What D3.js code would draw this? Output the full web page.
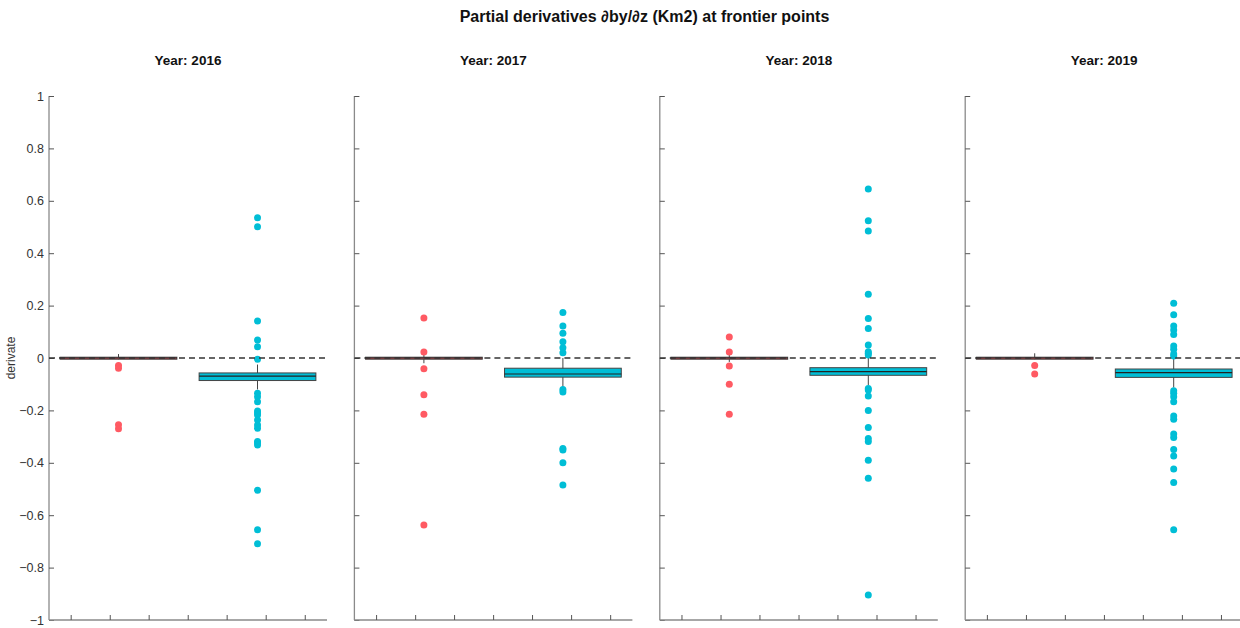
<!DOCTYPE html>
<html>
<head>
<meta charset="utf-8">
<script src="https://cdn.jsdelivr.net/npm/d3@7"></script>
<style>
  body { margin: 0; background: #fff; }
  svg { display: block; font-family: "Liberation Sans", Arial, sans-serif; }
</style>
</head>
<body>
<svg id="chart" width="1240" height="628"></svg>
<script>
// ---- data ----
const years = ["2016", "2017", "2018", "2019"];
const groups = ["A", "B"];
const groupPos = [1, 2];
const xTickValues = [0.656, 0.937, 1.217, 1.498, 1.778, 2.059, 2.340];
const yTickValues = [-1, -0.8, -0.6, -0.4, -0.2, 0, 0.2, 0.4, 0.6, 0.8, 1];

// box stats per year: [whiskerLow, q1, median, q3, whiskerHigh]
const redStats = [
  [-0.005, -0.003, 0, 0.003, 0.015],
  [-0.020, -0.003, 0, 0.003, 0.012],
  [-0.015, -0.003, 0, 0.003, 0.012],
  [-0.005, -0.003, 0, 0.003, 0.018]
];
const cyanStats = [
  [-0.120, -0.086, -0.069, -0.057, -0.025],
  [-0.112, -0.073, -0.061, -0.039, 0.000],
  [-0.103, -0.066, -0.052, -0.037, 0.003],
  [-0.113, -0.074, -0.056, -0.042, -0.004]
];
const redOutliers = [
  [-0.029, -0.039, -0.255, -0.270],
  [0.153, 0.023, -0.041, -0.140, -0.215, -0.637],
  [0.080, 0.023, -0.031, -0.100, -0.215],
  [-0.029, -0.061]
];
const cyanOutliers = [
  [0.535, 0.501, 0.141, 0.069, 0.043, -0.005, -0.135, -0.148, -0.167, -0.202, -0.210,
   -0.218, -0.237, -0.256, -0.268, -0.319, -0.323, -0.332, -0.505, -0.656, -0.709],
  [0.174, 0.122, 0.094, 0.062, 0.039, 0.020, -0.120, -0.130, -0.345, -0.351, -0.400, -0.485],
  [0.645, 0.524, 0.485, 0.243, 0.151, 0.113, 0.050, 0.024, 0.018, 0.011, -0.116, -0.122,
   -0.145, -0.200, -0.265, -0.307, -0.319, -0.390, -0.459, -0.905],
  [0.209, 0.165, 0.122, 0.107, 0.090, 0.046, 0.033, 0.015, 0.008, -0.125, -0.135, -0.148,
   -0.167, -0.221, -0.234, -0.290, -0.303, -0.349, -0.374, -0.424, -0.475, -0.656]
];
const colors = ["#ff5a63", "#00bed6"];

// ---- layout ----
const svg = d3.select("#chart");
const panelLeft0 = 49, panelStep = 305.4, panelW = 278;
const yTop = 96, yBottom = 620;
const y = d3.scaleLinear().domain([-1, 1]).range([yBottom, yTop]);
const boxHalf = 0.42;

svg.append("text")
  .attr("x", 644.5).attr("y", 22)
  .attr("text-anchor", "middle")
  .attr("font-size", 16).attr("font-weight", "bold").attr("fill", "#111")
  .text("Partial derivatives \u2202by/\u2202z (Km2) at frontier points");

svg.append("text")
  .attr("transform", `translate(15,${y(0)}) rotate(-90)`)
  .attr("text-anchor", "middle")
  .attr("font-size", 12).attr("fill", "#333")
  .text("derivate");

years.forEach((yr, i) => {
  const left = panelLeft0 + i * panelStep;
  const x = d3.scaleLinear().domain([0.5, 2.5]).range([left, left + panelW]);
  const g = svg.append("g");

  // title
  g.append("text")
    .attr("x", left + panelW / 2).attr("y", 65)
    .attr("text-anchor", "middle")
    .attr("font-size", 13.5).attr("font-weight", "bold").attr("fill", "#111")
    .text("Year: " + yr);

  // y axis
  const yAxis = d3.axisRight(y).tickValues(yTickValues).tickSize(5)
    .tickFormat(i === 0 ? d3.format("") : () => "");
  const ya = g.append("g").attr("transform", `translate(${left},0)`).call(yAxis);
  ya.select(".domain").attr("stroke", "#8a8a8a").attr("stroke-width", 1.3)
    .attr("d", `M0,${yTop}V${yBottom}`);
  ya.selectAll(".tick line").attr("stroke", "#555");
  ya.selectAll(".tick text")
    .attr("x", -5).attr("text-anchor", "end")
    .attr("font-size", 12.5).attr("fill", "#333")
    .attr("font-family", "'Liberation Sans', Arial, sans-serif");

  // x axis
  const xAxis = d3.axisTop(x).tickValues(xTickValues).tickSize(5).tickFormat(() => "");
  const xa = g.append("g").attr("transform", `translate(0,${yBottom})`).call(xAxis);
  xa.select(".domain").attr("stroke", "#8a8a8a").attr("stroke-width", 1.3)
    .attr("d", `M${left},0H${left + panelW}`);
  xa.selectAll(".tick line").attr("stroke", "#555");

  // boxes
  const stats = [redStats[i], cyanStats[i]];
  stats.forEach((s, k) => {
    const cx = x(groupPos[k]);
    g.append("line")
      .attr("x1", cx).attr("x2", cx)
      .attr("y1", y(s[0])).attr("y2", y(s[4]))
      .attr("stroke", "#444").attr("stroke-width", 1);
    g.append("rect")
      .attr("x", x(groupPos[k] - boxHalf)).attr("width", x(groupPos[k] + boxHalf) - x(groupPos[k] - boxHalf))
      .attr("y", y(s[3])).attr("height", Math.max(y(s[1]) - y(s[3]), 2))
      .attr("fill", colors[k]).attr("stroke", "#444").attr("stroke-width", 1);
    g.append("line")
      .attr("x1", x(groupPos[k] - boxHalf)).attr("x2", x(groupPos[k] + boxHalf))
      .attr("y1", y(s[2])).attr("y2", y(s[2]))
      .attr("stroke", "#222").attr("stroke-width", 1.2);
  });

  // outliers
  [redOutliers[i], cyanOutliers[i]].forEach((arr, k) => {
    g.selectAll(null).data(arr).enter().append("circle")
      .attr("cx", x(groupPos[k])).attr("cy", d => y(d))
      .attr("r", 3.5).attr("fill", colors[k]);
  });

  // zero dashed line
  g.append("line")
    .attr("x1", left).attr("x2", left + panelW)
    .attr("y1", y(0)).attr("y2", y(0))
    .attr("stroke", "#333").attr("stroke-width", 1.3)
    .attr("stroke-dasharray", "6,4");
});
</script>
</body>
</html>
